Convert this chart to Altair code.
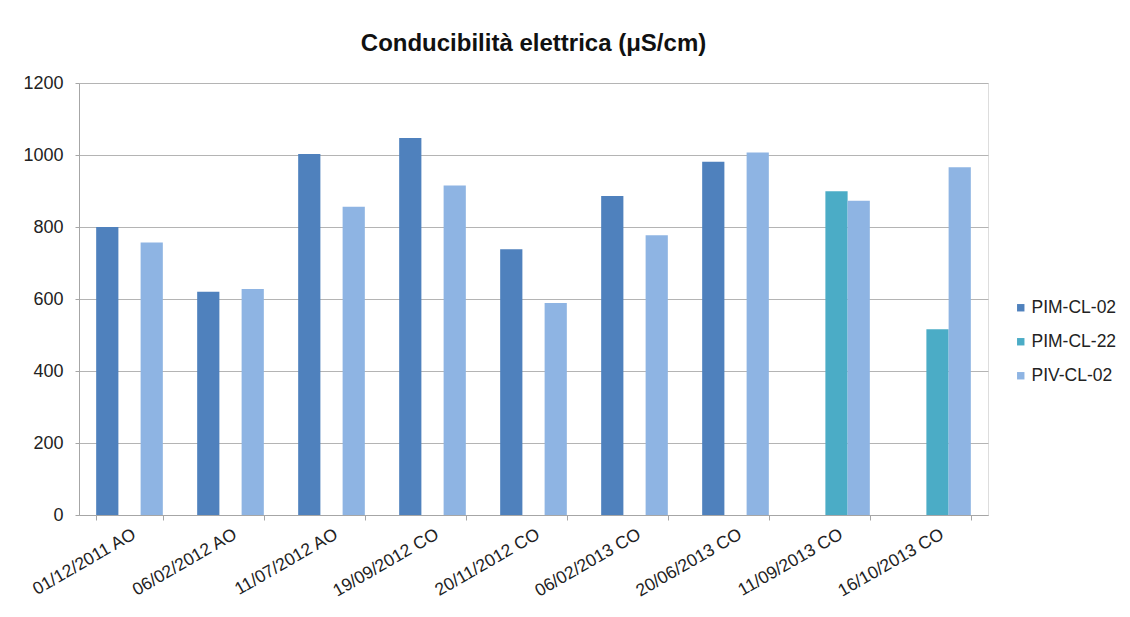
import altair as alt
import pandas as pd

categories = ["01/12/2011 AO", "06/02/2012 AO", "11/07/2012 AO", "19/09/2012 CO",
              "20/11/2012  CO", "06/02/2013 CO", "20/06/2013 CO", "11/09/2013 CO",
              "16/10/2013 CO"]
series_names = ["PIM-CL-02", "PIM-CL-22", "PIV-CL-02"]
pim_cl_02 = [800, 620, 1003, 1047, 738, 886, 981, None, None]
pim_cl_22 = [None, None, None, None, None, None, None, 899, 516]
piv_cl_02 = [757, 628, 856, 915, 589, 777, 1007, 873, 966]
colors = ["#4F81BD", "#4BACC6", "#8EB4E3"]
y_ticks = [0, 200, 400, 600, 800, 1000, 1200]

rows = []
for name, vals in zip(series_names, [pim_cl_02, pim_cl_22, piv_cl_02]):
    for c, v in zip(categories, vals):
        if v is not None:
            rows.append({"Data": c, "Serie": name, "Valore": v})
df = pd.DataFrame(rows)

FONT = "Liberation Sans"

chart = alt.Chart(df).mark_bar().encode(
    x=alt.X("Data:N", sort=categories,
            scale=alt.Scale(paddingInner=0.34, paddingOuter=0.17),
            axis=alt.Axis(title=None, labelAngle=-30, labelAlign="right",
                          labelBaseline="top", labelFontSize=17.5, labelPadding=5,
                          labelColor="#222222", labelFont=FONT,
                          tickBand="extent", ticks=True, tickSize=5,
                          tickColor="#A6A6A6", domainColor="#A6A6A6", grid=False)),
    xOffset=alt.XOffset("Serie:N", sort=series_names,
                        scale=alt.Scale(domain=series_names, paddingInner=0, paddingOuter=0)),
    y=alt.Y("Valore:Q",
            scale=alt.Scale(domain=[0, 1200], nice=False),
            axis=alt.Axis(title=None, values=y_ticks, format="d", labelFontSize=18,
                          labelColor="#222222", labelFont=FONT, labelPadding=12,
                          tickSize=4, tickColor="#A6A6A6", domainColor="#A6A6A6",
                          gridColor="#B4B4B4", gridWidth=1.2)),
    color=alt.Color("Serie:N", sort=series_names,
                    scale=alt.Scale(domain=series_names, range=colors),
                    legend=alt.Legend(title=None, orient="none", legendX=933, legendY=216,
                                      symbolType="square", symbolSize=55,
                                      symbolStrokeWidth=0,
                                      labelFontSize=17.5, labelFont=FONT,
                                      labelColor="#222222", rowPadding=15,
                                      labelOffset=2)),
).properties(
    width=909,
    height=432,
    title=alt.TitleParams("Conducibilità elettrica (μS/cm)", fontSize=24,
                          font=FONT, fontWeight="bold", color="#111111",
                          anchor="middle", offset=18),
    autosize=alt.AutoSizeParams(type="none"),
    padding={"left": 71, "top": 75, "right": 134, "bottom": 94},
).configure_view(stroke=None).configure(background="white")

chart.save("out.html", embed_options={"renderer": "svg", "actions": False})
